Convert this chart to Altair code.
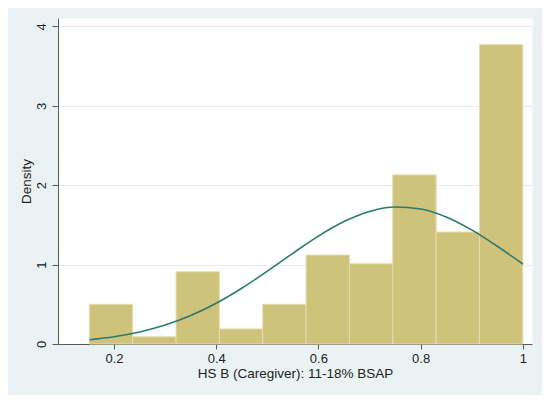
import altair as alt
import pandas as pd

# Histogram bins (data units) and density heights
bin_left = [0.1517, 0.2365, 0.3214, 0.4062, 0.4910, 0.5759, 0.6607, 0.7455, 0.8304, 0.9152]
bin_right = [0.2365, 0.3214, 0.4062, 0.4910, 0.5759, 0.6607, 0.7455, 0.8304, 0.9152, 1.0]
density = [0.50, 0.09, 0.91, 0.19, 0.50, 1.12, 1.01, 2.13, 1.41, 3.77]

# Normal density overlay
curve_x = [0.152, 0.20, 0.25, 0.30, 0.35, 0.40, 0.45, 0.50, 0.55, 0.60, 0.65,
           0.70, 0.75, 0.80, 0.85, 0.90, 0.95, 1.00]
curve_y = [0.054, 0.091, 0.151, 0.238, 0.358, 0.513, 0.702, 0.917, 1.142, 1.359,
           1.542, 1.670, 1.725, 1.701, 1.601, 1.437, 1.231, 1.007]

x_ticks = [0.2, 0.4, 0.6, 0.8, 1.0]
y_ticks = [0, 1, 2, 3, 4]

bars_df = pd.DataFrame({"left": bin_left, "right": bin_right, "density": density})
curve_df = pd.DataFrame({"x": curve_x, "y": curve_y})

FONT = "Liberation Sans"
AXIS_COLOR = "#5a5a5a"

x_scale = alt.Scale(domain=[0.0904, 1.018], zero=False, nice=False)
y_scale = alt.Scale(domain=[0, 4.106], nice=False)

x_axis = alt.Axis(
    values=x_ticks, format="~g", grid=False, tickSize=5, labelPadding=3,
    title="HS B (Caregiver): 11-18% BSAP", titlePadding=1, titleFontSize=13.5,
    domainColor=AXIS_COLOR, tickColor=AXIS_COLOR,
)
y_axis = alt.Axis(
    values=y_ticks, format="d", grid=True, gridColor="#e4eef1", tickSize=6,
    labelAngle=270, labelAlign="center", labelBaseline="alphabetic", labelPadding=7,
    title="Density", titlePadding=2, titleFontSize=13.5,
    domainColor=AXIS_COLOR, tickColor=AXIS_COLOR,
)

bars = alt.Chart(bars_df).mark_bar(
    color="#cfc27b", stroke="#e4ddb0", strokeWidth=1
).encode(
    x=alt.X("left:Q", scale=x_scale, axis=x_axis),
    x2="right:Q",
    y=alt.Y("density:Q", scale=y_scale, axis=y_axis),
    y2=alt.datum(0),
)

line = alt.Chart(curve_df).mark_line(
    color="#2b7a6c", strokeWidth=1.6, interpolate="monotone"
).encode(
    x=alt.X("x:Q", scale=x_scale),
    y=alt.Y("y:Q", scale=y_scale),
)

chart = alt.layer(bars, line).properties(
    width=474,
    height=326,
    padding={"left": 50, "top": 10, "right": 10, "bottom": 51},
    autosize=alt.AutoSizeParams(type="none"),
    background="#eaf2f3",
).configure_view(
    fill="white", stroke="transparent"
).configure_axis(
    labelFont=FONT, titleFont=FONT, labelFontSize=13, titleFontSize=13.5,
    labelColor="#222222", titleColor="#222222", titleFontWeight="normal",
)

chart.save("out.html", embed_options={"renderer": "svg", "actions": False})
